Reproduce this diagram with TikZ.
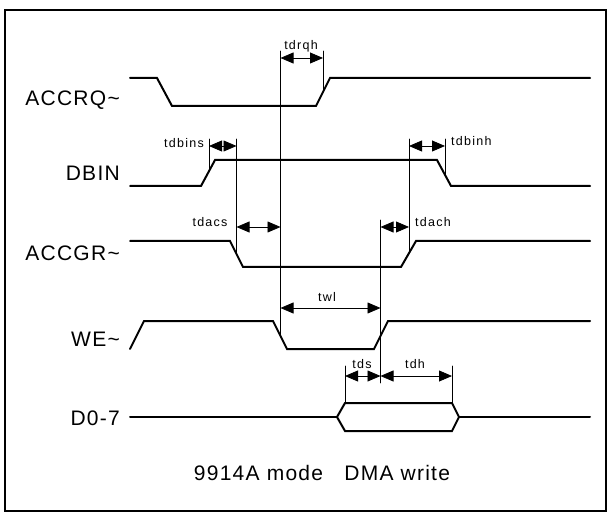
\documentclass[tikz,border=0pt]{standalone}
\usepackage{fontspec}
\usepackage{tkz-euclide}
\usetikzlibrary{arrows.meta}
\newfontfamily\sigfont[LetterSpace=6]{Liberation Sans}
\newfontfamily\timfont[LetterSpace=10]{Liberation Sans}
\tikzset{
  wave/.style = {line width=2pt, line join=miter},
  guide/.style = {line width=0.8pt},
  span/.style = {line width=0.8pt, arrows={Triangle[length=13pt,width=11pt]-Triangle[length=13pt,width=11pt]}},
  signame/.style = {font=\sigfont\fontsize{21}{25}\selectfont, anchor=base east, inner sep=0pt},
  timname/.style = {font=\timfont\fontsize{12.5}{15}\selectfont, inner sep=0pt}
}

\begin{document}
\begin{tikzpicture}[x=1pt,y=-1pt]
\useasboundingbox (0,0) rectangle (608,513);
\tkzDefPoints{5/10/F1, 606/511/F2}
\draw[line width=1.5pt] (F1) rectangle (F2);
% signals
\tkzDefPoints{130/78/Q1, 157/78/Q2, 172/106/Q3, 316/106/Q4, 330/78/Q5, 590/78/Q6}
\tkzDefPoints{130/186/D1, 201/186/D2, 215/160/D3, 437/160/D4, 451/186/D5, 590/186/D6}
\tkzDefPoints{130/241/G1, 230/241/G2, 243/267/G3, 401/267/G4, 416/241/G5, 590/241/G6}
\tkzDefPoints{130/349/W1, 144/321/W2, 273/321/W3, 287/349/W4, 374/349/W5, 388/321/W6, 590/321/W7}
\tkzDefPoints{130/417/B1, 337/417/B2, 345/403/B3, 452/403/B4, 459/417/B5, 452/431/B6, 345/431/B7, 590/417/B8}
\tkzDrawPolySeg[wave](Q1,Q2,Q3,Q4,Q5,Q6)
\tkzDrawPolySeg[wave](D1,D2,D3,D4,D5,D6)
\tkzDrawPolySeg[wave](G1,G2,G3,G4,G5,G6)
\tkzDrawPolySeg[wave](W1,W2,W3,W4,W5,W6,W7)
\tkzDrawSegments[wave](B1,B2 B5,B8)
\tkzDrawPolygon[wave](B2,B3,B4,B5,B6,B7)
\node[signame] (nQ) at (120,106) {ACCRQ\textasciitilde};
\node[signame] (nD) at (120,181) {DBIN};
\node[signame] (nG) at (120,261) {ACCGR\textasciitilde};
\node[signame] (nW) at (120,346) {WE\textasciitilde};
\node[signame] (nB) at (120,425) {D0-7};
% timing marks
\tkzDefPoints{280.5/51/V1, 280.5/337/V2, 323/51/V3, 323/92/V4, 209/139/V5, 209/171/V6,
  236.5/139/V7, 236.5/254/V8, 409/139/V9, 409/253/V10, 445/139/V11, 445/175/V12,
  380.5/220/V13, 380.5/383/V14, 345/366/V15, 345/403/V16, 452/366/V17, 452/403/V18}
\tkzDrawSegments[guide](V1,V2 V3,V4 V5,V6 V7,V8 V9,V10 V11,V12 V13,V14 V15,V16 V17,V18)
\tkzDefPoints{280.5/58/A1, 323/58/A2, 209/146/A3, 236.5/146/A4, 409/146/A5, 445/146/A6,
  236.5/227/A7, 280.5/227/A8, 380.5/227/A9, 409/227/A10, 280.5/308/A11, 380.5/308/A12,
  345/376/A13, 380.5/376/A14, 452/376/A15}
\draw[span] (A1) -- (A2);
\draw[span] (A3) -- (A4);
\draw[span] (A5) -- (A6);
\draw[span] (A7) -- (A8);
\draw[span] (A9) -- (A10);
\draw[span] (A11) -- (A12);
\draw[span] (A13) -- (A14);
\draw[span] (A14) -- (A15);
\node[timname] (tRQH) at (301,46) {tdrqh};
\node[timname, anchor=east] (tINS) at (204,143) {tdbins};
\node[timname, anchor=west] (tINH) at (451,141) {tdbinh};
\node[timname] (tACS) at (210,222) {tdacs};
\node[timname] (tACH) at (433,222) {tdach};
\node[timname] (tWL) at (327,297) {twl};
\node[timname] (tDS) at (362,364) {tds};
\node[timname] (tDH) at (415,364) {tdh};
\node[font=\sigfont\fontsize{21}{25}\selectfont, anchor=base, inner sep=0pt] (cap) at (322,480) {9914A mode\ \ \ DMA write};
\end{tikzpicture}
\end{document}
